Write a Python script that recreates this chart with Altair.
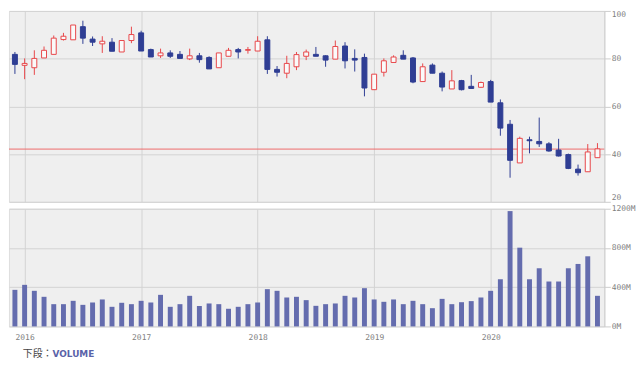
import altair as alt
import pandas as pd

# ---- data ----
months = [
    "2015-12",
    "2016-01", "2016-02", "2016-03", "2016-04", "2016-05", "2016-06",
    "2016-07", "2016-08", "2016-09", "2016-10", "2016-11", "2016-12",
    "2017-01", "2017-02", "2017-03", "2017-04", "2017-05", "2017-06",
    "2017-07", "2017-08", "2017-09", "2017-10", "2017-11", "2017-12",
    "2018-01", "2018-02", "2018-03", "2018-04", "2018-05", "2018-06",
    "2018-07", "2018-08", "2018-09", "2018-10", "2018-11", "2018-12",
    "2019-01", "2019-02", "2019-03", "2019-04", "2019-05", "2019-06",
    "2019-07", "2019-08", "2019-09", "2019-10", "2019-11", "2019-12",
    "2020-01", "2020-02", "2020-03", "2020-04", "2020-05", "2020-06",
    "2020-07", "2020-08", "2020-09", "2020-10", "2020-11", "2020-12",
]
open_ = [81.8,
         77.2, 76.2, 80.3, 81.8, 88.0, 87.9, 93.4, 88.2, 86.2, 86.9, 82.8, 87.6,
         90.8, 83.8, 81.2, 82.4, 81.8, 79.9, 81.2, 80.5, 76.2, 81.0, 83.8, 83.5,
         83.2, 87.9, 75.5, 73.9, 76.6, 81.0, 81.8, 81.2, 79.8, 85.3, 80.1, 80.5,
         67.0, 74.3, 78.4, 81.4, 80.3, 70.4, 77.3, 73.9, 67.3, 70.8, 68.4, 68.0,
         70.4, 61.5, 52.5, 36.3, 46.0, 45.3, 44.3, 41.7, 39.8, 33.7, 32.6, 38.5]
high = [82.8,
        80.1, 83.5, 85.1, 89.7, 90.8, 94.1, 95.9, 89.3, 89.4, 88.6, 87.6, 93.4,
        91.7, 84.2, 84.2, 83.5, 83.2, 84.2, 82.4, 81.0, 82.4, 84.5, 84.5, 84.9,
        89.4, 89.4, 76.9, 81.2, 82.8, 83.8, 84.9, 81.4, 87.6, 86.9, 83.9, 82.1,
        73.5, 80.1, 81.4, 83.5, 80.7, 78.0, 78.0, 74.6, 75.2, 71.1, 73.2, 70.4,
        71.1, 62.9, 54.3, 47.3, 47.3, 55.3, 45.0, 46.4, 40.2, 35.6, 44.2, 44.6]
low = [73.6,
       71.4, 73.2, 80.3, 81.8, 87.6, 87.9, 86.2, 85.3, 82.4, 83.1, 82.8, 86.5,
       83.2, 80.7, 80.3, 80.3, 80.1, 79.4, 78.3, 75.7, 76.2, 81.0, 80.1, 82.1,
       83.2, 73.6, 72.5, 71.8, 75.2, 79.4, 81.0, 76.6, 79.8, 75.9, 74.6, 64.2,
       67.0, 72.5, 78.3, 79.8, 69.7, 70.4, 73.9, 66.3, 67.3, 66.7, 67.5, 67.7,
       61.8, 47.7, 30.1, 36.3, 40.3, 43.0, 41.0, 39.0, 33.7, 31.0, 32.6, 38.5]
close = [77.6,
         78.0, 80.1, 83.5, 88.6, 89.4, 94.1, 88.6, 86.9, 87.3, 83.1, 87.6, 90.1,
         83.2, 80.7, 82.4, 81.0, 80.1, 81.2, 79.6, 75.7, 82.4, 83.5, 82.8, 83.8,
         87.3, 75.5, 74.3, 78.0, 81.7, 82.8, 81.0, 79.4, 85.1, 79.1, 79.4, 67.7,
         73.5, 79.1, 80.7, 79.8, 70.2, 76.6, 73.9, 68.1, 70.7, 67.0, 67.5, 70.0,
         61.8, 50.9, 37.4, 46.6, 45.6, 44.3, 41.3, 39.2, 34.0, 32.2, 40.9, 42.2]
volume_m = [373,
            424, 363, 302, 227, 227, 261, 220, 244, 275, 200, 241, 227,
            261, 244, 322, 200, 227, 312, 208, 234, 227, 180, 200, 227,
            244, 380, 363, 295, 302, 268, 210, 227, 234, 312, 295, 390,
            275, 251, 275, 227, 261, 227, 186, 281, 227, 247, 258, 295,
            363, 481, 1176, 803, 481, 593, 458, 458, 593, 637, 715, 312]

year_labels = ["2016", "2017", "2018", "2019", "2020"]
year_tick_index = [1, 13, 25, 37, 49]
price_ticks = [20, 40, 60, 80, 100]
volume_ticks = [0, 400, 800, 1200]
last_price = [42.1]

RED = "#e8474a"
BLUE = "#2f3e94"
VOLBLUE = "#646cae"
HOLLOW = "#fafafa"
PRICE_LINE = "#ee6b6b"

df = pd.DataFrame({
    "i": list(range(len(months))),
    "month": months,
    "open": open_, "high": high, "low": low, "close": close,
    "volume": volume_m,
})
df["up"] = df["close"] >= df["open"]

xs = alt.Scale(domain=[-0.61, 60.71], nice=False, zero=False, padding=0)
label_expr = "[" + ",".join("'%s'" % y for y in year_labels) + "][(datum.value-1)/12]"

x_top = alt.Axis(values=year_tick_index, labels=False, ticks=False, domain=False,
                 grid=True, title="")
x_bot = alt.Axis(values=year_tick_index, labelExpr=label_expr, ticks=False,
                 domain=False, grid=True, title="", labelPadding=7)

ys_price = alt.Scale(domain=[20, 100], nice=False, zero=False)
y_price_axis = alt.Axis(orient="right", values=price_ticks, title="", grid=True,
                        labelFlush=True, tickSize=6, labelPadding=1)
ys_vol = alt.Scale(domain=[0, 1200], nice=False)
y_vol_axis = alt.Axis(orient="right", values=volume_ticks, title="", grid=True,
                      labelExpr="datum.value + 'M'", tickSize=6, labelPadding=1)

# ---- price panel ----
pline = alt.Chart(pd.DataFrame({"p": last_price})).mark_rule(
    color=PRICE_LINE, stroke=PRICE_LINE, strokeWidth=1
).encode(y=alt.Y("p:Q", scale=ys_price, axis=y_price_axis))

base = alt.Chart(df).encode(x=alt.X("i:Q", scale=xs, axis=x_top))

wick = base.mark_rule(strokeWidth=1).encode(
    y=alt.Y("low:Q", scale=ys_price, axis=y_price_axis),
    y2="high:Q",
    color=alt.condition("datum.up", alt.value(RED), alt.value(BLUE)),
)
body = base.mark_bar(size=5, strokeWidth=1).encode(
    y=alt.Y("open:Q", scale=ys_price, axis=y_price_axis),
    y2="close:Q",
    fill=alt.condition("datum.up", alt.value(HOLLOW), alt.value(BLUE)),
    stroke=alt.condition("datum.up", alt.value(RED), alt.value(BLUE)),
)

top = alt.layer(pline, wick, body).properties(width=602, height=193)

# ---- volume panel ----
vol = alt.Chart(df).mark_bar(size=5, color=VOLBLUE).encode(
    x=alt.X("i:Q", scale=xs, axis=x_bot),
    y=alt.Y("volume:Q", scale=ys_vol, axis=y_vol_axis),
)

lab1 = alt.Chart(pd.DataFrame({"t": ["下段："]})).mark_text(
    align="left", baseline="middle", font="Noto Sans CJK JP", fontSize=10, color="#444444"
).encode(x=alt.value(14), y=alt.value(147), text="t:N")
lab2 = alt.Chart(pd.DataFrame({"t": ["VOLUME"]})).mark_text(
    align="left", baseline="middle", font="DejaVu Sans", fontSize=9, fontWeight="bold",
    color="#5a62a8"
).encode(x=alt.value(44), y=alt.value(147), text="t:N")

bottom = alt.layer(vol, lab1, lab2).properties(width=602, height=119)

chart = alt.vconcat(top, bottom, spacing=7, bounds="flush").resolve_scale(
    y="independent"
).properties(
    padding={"left": 0, "top": 0, "right": 0, "bottom": 0}
).configure_view(
    fill="#efefef", stroke="#dedede"
).configure_axis(
    gridColor="#d2d2d2", gridWidth=1,
    labelFont="DejaVu Sans Mono", labelFontSize=8, labelColor="#808080",
    domainColor="#cccccc", tickColor="#cccccc",
)

chart.save("out.html", embed_options={"renderer": "svg", "actions": False})
